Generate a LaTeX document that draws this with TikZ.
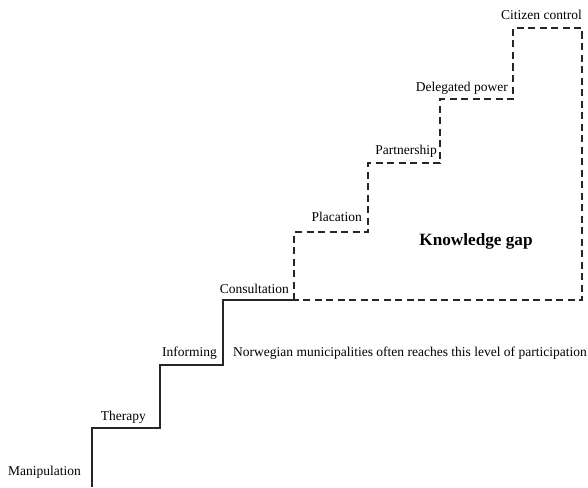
\documentclass[tikz,border=0pt]{standalone}
\usepackage{fontspec}
\setmainfont{Liberation Serif}
\begin{document}
\begin{tikzpicture}[x=1pt,y=-1pt,
  lbl/.style={inner sep=0pt,font=\fontsize{13.5}{15}\selectfont,anchor=east},
  gap/.style={inner sep=0pt,font=\fontsize{17.2}{20}\selectfont\bfseries},
  solidstep/.style={line width=2pt,draw=black!85,line join=miter},
  dashstep/.style={line width=2pt,draw=black!85,dash pattern=on 7pt off 4.5pt}]
\useasboundingbox (0,0) rectangle (588,487);
% corners
\coordinate (b0) at (92,487);
\coordinate (c1) at (92,428);
\coordinate (c2) at (160,428);
\coordinate (c3) at (160,365);
\coordinate (c4) at (223,365);
\coordinate (c5) at (223,300);
\coordinate (c6) at (294,300);
\coordinate (d1) at (294,232);
\coordinate (d2) at (368,232);
\coordinate (d3) at (368,163);
\coordinate (d4) at (440,163);
\coordinate (d5) at (440,99);
\coordinate (d6) at (513,99);
\coordinate (d7) at (513,28);
\coordinate (d8) at (582,28);
\coordinate (d9) at (582,300);
\draw[solidstep] (b0) -- (c1) -- (c2) -- (c3) -- (c4) -- (c5) -- (c6);
\draw[dashstep] (c6) -- (d1) -- (d2) -- (d3) -- (d4) -- (d5) -- (d6) -- (d7) -- (d8) -- (d9) -- (c6);
% labels
\node[lbl] (manip) at (81,472) {Manipulation};
\node[lbl] (ther) at (146,417) {Therapy};
\node[lbl] (inf) at (217,353) {Informing};
\node[lbl] (cons) at (289,289) {Consultation};
\node[lbl] (plac) at (362,217) {Placation};
\node[lbl] (part) at (437,151) {Partnership};
\node[lbl] (deleg) at (508,88) {Delegated power};
\node[lbl] (cit) at (582,15) {Citizen control};
\node[lbl,anchor=west] (norw) at (233,353) {Norwegian municipalities often reaches this level of participation};
\node[gap] (kg) at (476,241) {Knowledge gap};
\end{tikzpicture}
\end{document}
